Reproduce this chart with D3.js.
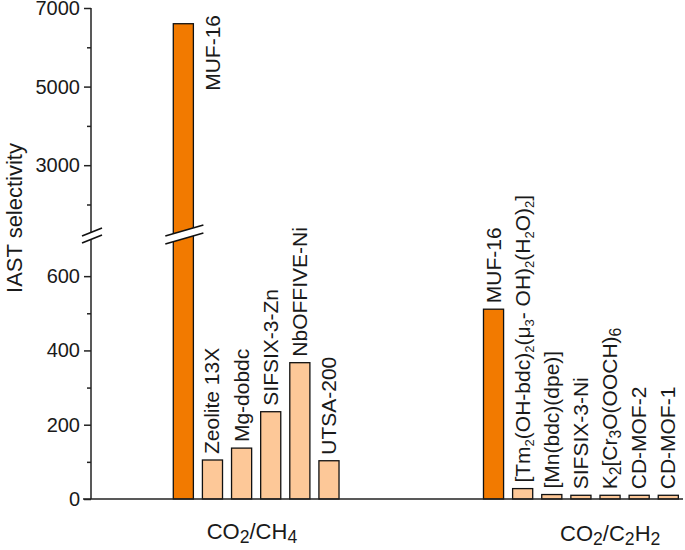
<!DOCTYPE html>
<html><head><meta charset="utf-8">
<script src="https://cdn.jsdelivr.net/npm/d3@7"></script>
<style>body{margin:0;background:#fff}svg{display:block}text{font-family:"Liberation Sans",Arial,sans-serif;fill:#1a1a1a}</style>
</head><body>
<script>
// ---- data ----
const groupLabels = ["CO_{2}/CH_{4}", "CO_{2}/C_{2}H_{2}"];
const ch4Names  = ["MUF-16","Zeolite 13X","Mg-dobdc","SIFSIX-3-Zn","NbOFFIVE-Ni","UTSA-200"];
const ch4Values = [6600, 105, 137, 235, 367, 103];
const c2h2Names  = ["MUF-16","[Tm_{2}(OH-bdc)_{2}(μ_{3}- OH)_{2}(H_{2}O)_{2}]","[Mn(bdc)(dpe)]","SIFSIX-3-Ni","K_{2}[Cr_{3}O(OOCH)_{6}","CD-MOF-2","CD-MOF-1"];
const c2h2Values = [511, 28, 12, 10, 10, 10, 10];
const upperMajorTicks = [3000, 5000, 7000];
const upperMinorTicks = [2000, 4000, 6000];
const lowerMajorTicks = [0, 200, 400, 600];
const lowerMinorTicks = [100, 300, 500];

// ---- layout ----
const W = 685, H = 550;
const axisX = 91;
const groupOffset = [0, 10.65];     // slot offset of each group
const groupLabelSlot = [2.7, 15.0];
const colorMain = "#f27a00", colorOther = "#fdc898";

const x = d3.scaleLinear().domain([-3.1, 17.5]).range([83, 683]);
const pitch = x(1) - x(0);
const bw = pitch * 0.69;
const yLow = d3.scaleLinear().domain([0, 700]).range([499, 239]);
const yUp  = d3.scaleLinear().domain([1300, 7000]).range([232, 8]);
const yv = v => v > 700 ? yUp(v) : yLow(v);

const bars = [];
ch4Names.forEach((n,i)=>bars.push({name:n, value:ch4Values[i], slot:groupOffset[0]+i, main:i===0}));
c2h2Names.forEach((n,i)=>bars.push({name:n, value:c2h2Values[i], slot:groupOffset[1]+i, main:i===0}));

const svg = d3.select("body").append("svg").attr("width", W).attr("height", H);

function richText(sel, str, fs, subScale) {
  const parts = str.split(/_\{([^}]*)\}/);
  let shifted = false;
  parts.forEach((p, i) => {
    if (p === "") { return; }
    const isSub = i % 2 === 1;
    const t = sel.append("tspan").text(p);
    if (isSub) { t.attr("font-size", fs*subScale).attr("dy", shifted ? 0 : fs*0.2); shifted = true; }
    else { if (shifted) t.attr("dy", -fs*0.2); shifted = false; }
  });
}

// bars
svg.append("g").selectAll("rect").data(bars).join("rect")
  .attr("x", d => x(d.slot)).attr("width", bw)
  .attr("y", d => yv(d.value)).attr("height", d => 499 - yv(d.value))
  .attr("fill", d => d.main ? colorMain : colorOther)
  .attr("stroke", "#111").attr("stroke-width", 1.3);

// x axis line
svg.append("line").attr("x1", x.range()[0]).attr("x2", x.range()[1])
  .attr("y1", yLow(0)).attr("y2", yLow(0)).attr("stroke", "#222").attr("stroke-width", 1.5);

// y axis line
svg.append("line").attr("x1", axisX).attr("x2", axisX).attr("y1", yUp(7000)).attr("y2", yLow(0))
  .attr("stroke", "#222").attr("stroke-width", 1.5);

function ticks(scale, vals, size, labels) {
  const ax = d3.axisLeft(scale).tickValues(vals).tickSize(size).tickPadding(4)
    .tickFormat(labels ? d3.format("d") : () => "");
  const g = svg.append("g").attr("transform", `translate(${axisX},0)`).call(ax);
  g.select(".domain").remove();
  g.selectAll("line").attr("stroke", "#222").attr("stroke-width", 1.5);
  g.selectAll("text").attr("font-size", 20).attr("fill", "#1a1a1a")
    .attr("font-family", '"Liberation Sans",Arial,sans-serif');
}
ticks(yUp, upperMajorTicks, 7, true);
ticks(yUp, upperMinorTicks, 4, false);
ticks(yLow, lowerMajorTicks, 7, true);
ticks(yLow, lowerMinorTicks, 4, false);

// break marks
function brk(x1, x2, cy, slope, gap) {
  const cx = (x1 + x2) / 2;
  const yAt = (xx, off) => cy + off - (xx - cx) * slope;
  const pts = [[x1, yAt(x1,-gap/2)], [x2, yAt(x2,-gap/2)], [x2, yAt(x2,gap/2)], [x1, yAt(x1,gap/2)]];
  svg.append("polygon").attr("points", pts.map(p=>p.join(",")).join(" ")).attr("fill", "#fff");
  [-gap/2, gap/2].forEach(o => svg.append("line")
    .attr("x1", x1).attr("y1", yAt(x1,o)).attr("x2", x2).attr("y2", yAt(x2,o))
    .attr("stroke", "#111").attr("stroke-width", 1.6));
}
const breakY = (yUp.range()[0] + yLow.range()[1]) / 2;
brk(axisX - 9, axisX + 11, breakY, 0.4, 7);
const mb = bars[0];
brk(x(mb.slot) - 8, x(mb.slot) + bw + 10, breakY - 1, 0.29, 8);

// bar labels
const fsL = 21;
bars.forEach((d, i) => {
  const xc = x(d.slot) + bw / 2;
  const top = yv(d.value);
  let tx, ty, anchor;
  if (top - 6 - 100 < 0) { tx = xc + pitch + 8; ty = 15; anchor = "end"; }
  else { tx = xc + 7; ty = top - 6; anchor = "start"; }
  const t = svg.append("text").attr("transform", `translate(${tx},${ty}) rotate(-90)`)
    .attr("font-size", fsL).attr("text-anchor", anchor);
  richText(t, d.name, fsL, d.name.startsWith("[Tm") ? 0.62 : 0.75);
});

// group labels
groupLabels.forEach((g, i) => {
  const t = svg.append("text").attr("x", x(groupLabelSlot[i])).attr("y", i === 0 ? 539 : 541)
    .attr("font-size", 22).attr("text-anchor", "middle");
  richText(t, g, 22, 0.8);
});

// y title
svg.append("text").attr("transform", `translate(22,218) rotate(-90)`)
  .attr("font-size", 22).attr("text-anchor", "middle").text("IAST selectivity");
</script>
</body></html>
